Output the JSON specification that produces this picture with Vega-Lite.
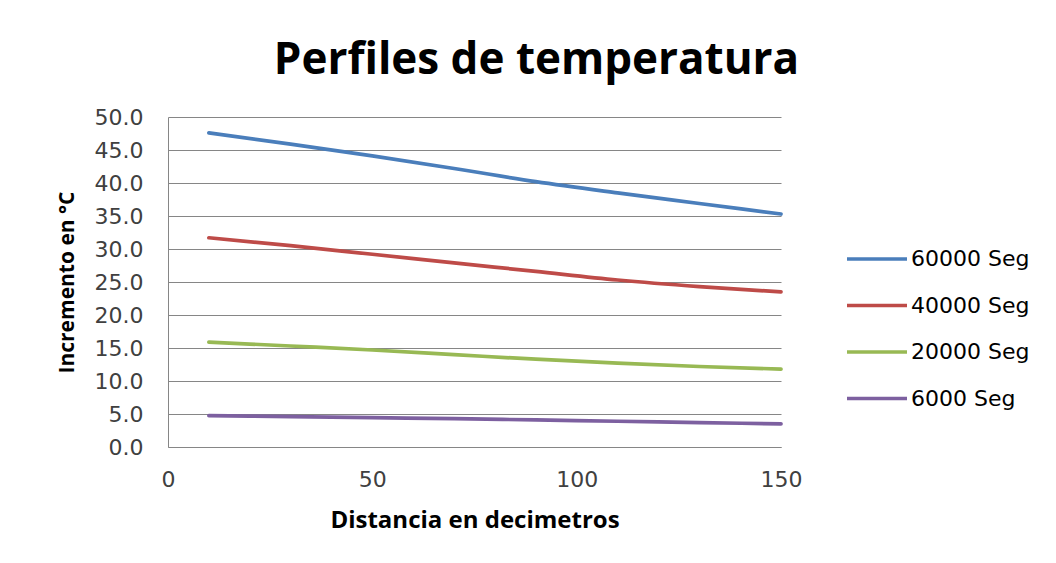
{
  "$schema": "https://vega.github.io/schema/vega-lite/v6.json",
  "width": 613,
  "height": 330,
  "autosize": {"type": "none"},
  "padding": {"left": 168, "top": 117, "right": 275, "bottom": 116},
  "background": "white",
  "title": {
    "text": "Perfiles de temperatura",
    "font": "Open Sans",
    "fontSize": 44,
    "fontWeight": "bold",
    "color": "#000000",
    "anchor": "middle",
    "dx": 62,
    "offset": 23
  },
  "data": {
    "values": [
      {"d": 10, "t": 47.6, "s": "60000 Seg"},
      {"d": 30, "t": 45.9, "s": "60000 Seg"},
      {"d": 50, "t": 44.1, "s": "60000 Seg"},
      {"d": 70, "t": 42.2, "s": "60000 Seg"},
      {"d": 90, "t": 40.2, "s": "60000 Seg"},
      {"d": 110, "t": 38.5, "s": "60000 Seg"},
      {"d": 130, "t": 36.9, "s": "60000 Seg"},
      {"d": 150, "t": 35.3, "s": "60000 Seg"},
      {"d": 10, "t": 31.7, "s": "40000 Seg"},
      {"d": 30, "t": 30.5, "s": "40000 Seg"},
      {"d": 50, "t": 29.2, "s": "40000 Seg"},
      {"d": 70, "t": 27.9, "s": "40000 Seg"},
      {"d": 90, "t": 26.6, "s": "40000 Seg"},
      {"d": 110, "t": 25.3, "s": "40000 Seg"},
      {"d": 130, "t": 24.3, "s": "40000 Seg"},
      {"d": 150, "t": 23.5, "s": "40000 Seg"},
      {"d": 10, "t": 15.9, "s": "20000 Seg"},
      {"d": 30, "t": 15.3, "s": "20000 Seg"},
      {"d": 50, "t": 14.7, "s": "20000 Seg"},
      {"d": 70, "t": 14.0, "s": "20000 Seg"},
      {"d": 90, "t": 13.3, "s": "20000 Seg"},
      {"d": 110, "t": 12.7, "s": "20000 Seg"},
      {"d": 130, "t": 12.2, "s": "20000 Seg"},
      {"d": 150, "t": 11.8, "s": "20000 Seg"},
      {"d": 10, "t": 4.75, "s": "6000 Seg"},
      {"d": 30, "t": 4.6, "s": "6000 Seg"},
      {"d": 50, "t": 4.45, "s": "6000 Seg"},
      {"d": 70, "t": 4.3, "s": "6000 Seg"},
      {"d": 90, "t": 4.1, "s": "6000 Seg"},
      {"d": 110, "t": 3.9, "s": "6000 Seg"},
      {"d": 130, "t": 3.7, "s": "6000 Seg"},
      {"d": 150, "t": 3.5, "s": "6000 Seg"}
    ]
  },
  "mark": {"type": "line", "strokeWidth": 3.7, "interpolate": "monotone", "strokeCap": "round"},
  "encoding": {
    "x": {
      "field": "d",
      "type": "quantitative",
      "scale": {"domain": [0, 150], "nice": false},
      "axis": {
        "title": "Distancia  en decimetros",
        "values": [0, 50, 100, 150],
        "grid": false,
        "ticks": false,
        "domainColor": "#868686",
        "domainWidth": 1,
        "labelFont": "DejaVu Sans",
        "labelFontSize": 22,
        "labelColor": "#404040",
        "labelPadding": 22,
        "labelFlush": false,
        "titleFont": "Open Sans",
        "titleFontSize": 24,
        "titleFontWeight": "bold",
        "titleColor": "#000000",
        "titlePadding": 18
      }
    },
    "y": {
      "field": "t",
      "type": "quantitative",
      "scale": {"domain": [0, 50], "nice": false},
      "axis": {
        "title": "Incremento en °C",
        "values": [0, 5, 10, 15, 20, 25, 30, 35, 40, 45, 50],
        "format": ".1f",
        "grid": true,
        "gridColor": "#868686",
        "gridWidth": 1,
        "ticks": false,
        "domainColor": "#868686",
        "domainWidth": 1,
        "labelFont": "DejaVu Sans",
        "labelFontSize": 22,
        "labelColor": "#404040",
        "labelPadding": 25,
        "labelFlush": false,
        "titleFont": "Open Sans",
        "titleFontSize": 21,
        "titleFontWeight": "bold",
        "titleColor": "#000000",
        "titlePadding": 17
      }
    },
    "color": {
      "field": "s",
      "type": "nominal",
      "scale": {
        "domain": ["60000 Seg", "40000 Seg", "20000 Seg", "6000 Seg"],
        "range": ["#4A7EBB", "#BE4B48", "#98B954", "#7D60A0"]
      },
      "legend": {
        "title": null,
        "orient": "none",
        "legendX": 677,
        "legendY": 110,
        "symbolType": "stroke",
        "symbolSize": 3600,
        "symbolStrokeWidth": 3.7,
        "labelFont": "DejaVu Sans",
        "labelFontSize": 22,
        "labelColor": "#000000",
        "labelOffset": 2,
        "rowPadding": 3.5
      }
    }
  },
  "config": {"view": {"stroke": null}}
}
